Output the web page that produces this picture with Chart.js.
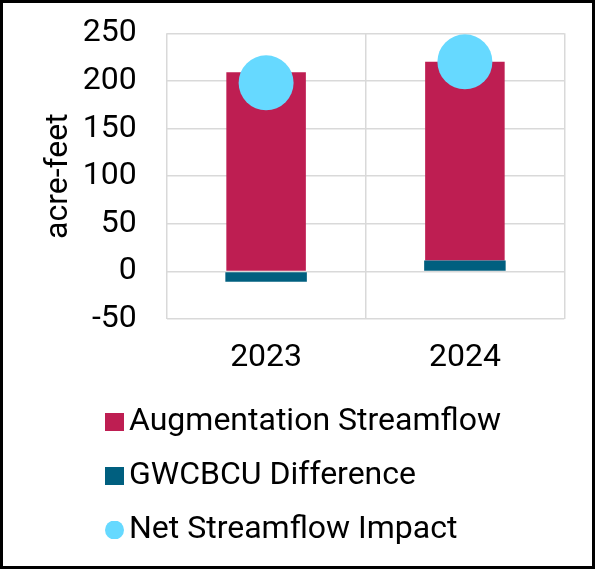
<!DOCTYPE html>
<html>
<head>
<meta charset="utf-8">
<script src="https://cdn.jsdelivr.net/npm/chart.js@4"></script>
<style>
  html, body { margin: 0; padding: 0; background: #fff; }
  #frame {
    position: relative; width: 595px; height: 569px;
    border: 3px solid #000; box-sizing: border-box; overflow: hidden;
  }
  #chart { position: absolute; left: 0; top: 0; }
</style>
</head>
<body>
<div id="frame"><canvas id="chart" width="589" height="563"></canvas></div>
<script>
// ================== DATA ==================
const years        = ["2023", "2024"];
const augmentation = [209, 208.5];
const gwcbcuDiff   = [-11, 11.5];
const netImpact    = [198, 220];
const yTicks       = [-50, 0, 50, 100, 150, 200, 250];

const CRIMSON = "#BE1E52", TEAL = "#005F7F", SKY = "#66D9FF", GRID = "#D9D9D9";
const FONT = "Roboto";

// legend shows Augmentation first, but GWCBCU must sit at the bottom of the stack
const legendRank = { 1: 0, 0: 1, 2: 2 };

// small legend markers, square for bars and round for the points
// (4px of empty room on the left pulls the marker closer to its text)
function marker(color, round) {
  const c = document.createElement("canvas");
  c.width = 23; c.height = 18;
  const g = c.getContext("2d");
  g.fillStyle = color;
  if (round) { g.beginPath(); g.arc(13.5, 9, 9.5, 0, Math.PI * 2); g.fill(); }
  else g.fillRect(4, 0, 19, 18);
  return c;
}

const shiftLegend = {
  id: "shiftLegend",
  afterLayout(chart) {
    const lg = chart.legend;
    if (!lg) return;
    const dx = 87 - lg.left;
    lg.left += dx; lg.right += dx;
  }
};

new Chart(document.getElementById("chart"), {
  type: "bar",
  data: {
    labels: years,
    datasets: [
      { label: "GWCBCU Difference", data: gwcbcuDiff, backgroundColor: TEAL, barPercentage: 0.41, order: 1 },
      { label: "Augmentation Streamflow", data: augmentation, backgroundColor: CRIMSON, order: 1 },
      { label: "Net Streamflow Impact", data: netImpact, type: "line", showLine: false,
        backgroundColor: SKY, borderColor: SKY, borderWidth: 0,
        pointBackgroundColor: SKY, pointBorderWidth: 0,
        pointRadius: 27.5, pointHoverRadius: 27.5, order: 0 }
    ]
  },
  options: {
    responsive: false,
    animation: false,
    devicePixelRatio: 1,
    layout: { autoPadding: false, padding: { left: 37, right: 27.7, top: 30.3, bottom: 10 } },
    datasets: { bar: { barPercentage: 0.4, categoryPercentage: 1 } },
    plugins: {
      tooltip: { enabled: false },
      legend: {
        position: "bottom",
        align: "start",
        labels: {
          color: "#000",
          font: { family: FONT, size: 32 },
          usePointStyle: true,
          pointStyleWidth: 1,
          padding: 22,
          sort: (a, b) => legendRank[a.datasetIndex] - legendRank[b.datasetIndex],
          generateLabels(chart) {
            const items = Chart.defaults.plugins.legend.labels.generateLabels(chart);
            items.forEach(it => {
              const ds = chart.data.datasets[it.datasetIndex];
              it.lineWidth = 0;
              it.pointStyle = marker(ds.backgroundColor, it.datasetIndex === 2);
            });
            return items;
          }
        }
      }
    },
    scales: {
      x: {
        stacked: true,
        afterFit: (axis) => { axis.height = 65; },
        grid: { color: GRID, lineWidth: 1.5, drawTicks: false },
        border: { display: false },
        ticks: { color: "#000", font: { family: FONT, size: 32 }, padding: 20 }
      },
      y: {
        stacked: true,
        min: yTicks[0], max: yTicks[yTicks.length - 1],
        afterBuildTicks: (axis) => { axis.ticks = yTicks.map(v => ({ value: v })); },
        afterFit: (axis) => { axis.width = 126.7; },
        grid: { color: GRID, lineWidth: 1.5, tickLength: 26, tickColor: "rgba(0,0,0,0)" },
        border: { display: false },
        ticks: { color: "#000", font: { family: FONT, size: 32 }, padding: 4 },
        title: {
          display: true, text: "acre-feet", color: "#000",
          font: { family: FONT, size: 32 }, padding: { top: 0, bottom: 4 }
        }
      }
    }
  },
  plugins: [shiftLegend]
});
</script>
</body>
</html>
